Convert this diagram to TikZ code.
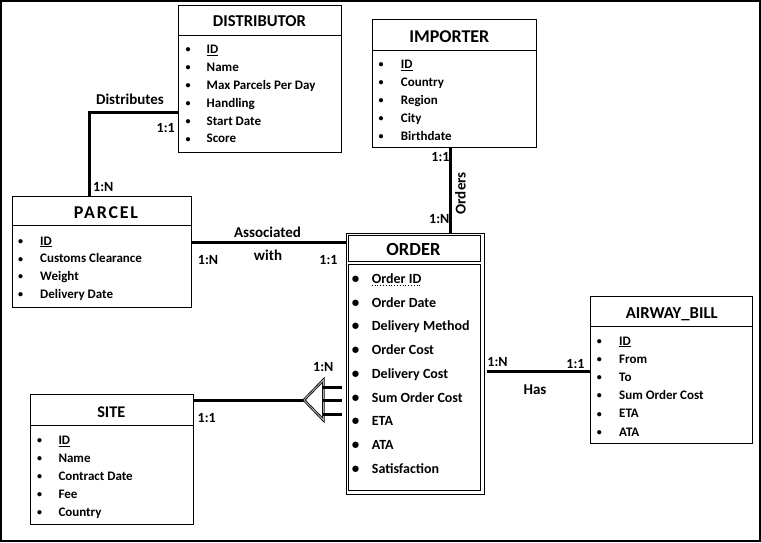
\documentclass[tikz,border=0pt]{standalone}
\usepackage{fontspec}
\setmainfont{Carlito}
\begin{document}
\begin{tikzpicture}[x=1pt,y=-1pt,
  ent/.style={draw, line width=0.9pt, inner sep=0pt, anchor=north west},
  sep/.style={line width=0.9pt},
  ttl/.style={font=\bfseries\fontsize{17}{19}\selectfont, inner sep=0pt, anchor=base},
  attr/.style={font=\bfseries\fontsize{13}{15}\selectfont, inner sep=0pt, anchor=base west},
  bul/.style={font=\bfseries\fontsize{10}{12}\selectfont, inner sep=0pt, anchor=base},
  oattr/.style={font=\bfseries\fontsize{14}{16}\selectfont, inner sep=0pt, anchor=base west},
  obul/.style={font=\bfseries\fontsize{15}{16}\selectfont, inner sep=0pt, anchor=base},
  rel/.style={line width=3pt},
  card/.style={font=\bfseries\fontsize{14}{16}\selectfont, inner sep=0pt},
  rname/.style={font=\bfseries\fontsize{15}{17}\selectfont, inner sep=0pt},
]
\useasboundingbox (0,0) rectangle (761,542);
\draw[line width=2pt] (1,1) rectangle (760,541);

% DISTRIBUTOR
\node[ent, minimum width=162.4pt, minimum height=146.7pt] (dist) at (178.3,5) {};
\draw[sep] (178.3,35) -- (340.7,35);
\node[ttl, font=\bfseries\fontsize{16.6}{19}\selectfont] (distT) at (259.5,26) {DISTRIBUTOR};
\foreach \t [count=\i from 0] in {\underline{ID},Name,Max Parcels Per Day,Handling,Start Date,Score} {
  \node[bul] (distB\i) at (188,49+17.9*\i+3.6) {\textbullet};
  \node[attr] (distA\i) at (206.5,49+17.9*\i+4.4) {\t};
}

% IMPORTER
\node[ent, minimum width=163.4pt, minimum height=128.3pt] (imp) at (372.3,19) {};
\draw[sep] (372.3,50.7) -- (535.7,50.7);
\node[ttl, font=\bfseries\fontsize{18}{20}\selectfont] (impT) at (449.3,42.5) {IMPORTER};
\foreach \t [count=\i from 0] in {\underline{ID},Country,Region,City,Birthdate} {
  \node[bul] (impB\i) at (381,64+17.9*\i+3.6) {\textbullet};
  \node[attr] (impA\i) at (400.7,64+17.9*\i+4.4) {\t};
}

% PARCEL
\node[ent, minimum width=179.3pt, minimum height=111pt] (parcel) at (11.7,195.7) {};
\draw[sep] (11.7,225.7) -- (191,225.7);
\node[ttl, font=\bfseries\fontsize{18}{20}\selectfont\addfontfeatures{LetterSpace=10}] (parcelT) at (106,218.8) {PARCEL};
\foreach \t [count=\i from 0] in {\underline{ID},Customs Clearance,Weight,Delivery Date} {
  \node[bul] (parcelB\i) at (20.5,240.7+17.8*\i+3.6) {\textbullet};
  \node[attr] (parcelA\i) at (40,240.7+17.8*\i+4.4) {\t};
}

% SITE
\node[ent, minimum width=162.7pt, minimum height=129.7pt] (site) at (30,394.3) {};
\draw[sep] (30,425) -- (192.7,425);
\node[ttl, font=\bfseries\fontsize{16.3}{18}\selectfont] (siteT) at (111.3,417.5) {SITE};
\foreach \t [count=\i from 0] in {\underline{ID},Name,Contract Date,Fee,Country} {
  \node[bul] (siteB\i) at (39.5,440+18*\i+3.6) {\textbullet};
  \node[attr] (siteA\i) at (58.3,440+18*\i+4.4) {\t};
}

% AIRWAY_BILL
\node[ent, minimum width=162.3pt, minimum height=147.3pt] (air) at (590,296) {};
\draw[sep] (590,326) -- (752.3,326);
\node[ttl, font=\bfseries\fontsize{16.7}{18}\selectfont] (airT) at (671.7,318.5) {AIRWAY\_BILL};
\foreach \t [count=\i from 0] in {\underline{ID},From,To,Sum Order Cost,ETA,ATA} {
  \node[bul] (airB\i) at (599.3,340.7+18.2*\i+3.6) {\textbullet};
  \node[attr] (airA\i) at (619,340.7+18.2*\i+4.4) {\t};
}

% ORDER (double border)
\node[ent, minimum width=138pt, minimum height=261pt] (order) at (345.5,232.5) {};
\draw[sep] (348.8,235.8) rectangle (480.2,261.3);
\draw[sep] (348.8,264.7) rectangle (480.2,490.2);
\node[ttl, font=\bfseries\fontsize{18.5}{21}\selectfont] (orderT) at (413.5,255) {ORDER};
\foreach \t [count=\i from 0] in {Order ID,Order Date,Delivery Method,Order Cost,Delivery Cost,Sum Order Cost,ETA,ATA,Satisfaction} {
  \node[obul] (orderB\i) at (355.5,278.3+23.75*\i+5) {\textbullet};
  \node[oattr] (orderA\i) at (371.7,278.3+23.75*\i+5) {\t};
}
\draw[dotted, line width=0.8pt] ([yshift=-2.5pt]orderA0.base west) -- ([yshift=-2.5pt]orderA0.base east);

% Distributes
\coordinate (dj) at (89,112.7);
\draw[rel] (dist.west |- dj) -- (dj) -- (parcel.north -| dj);
\node[rname] (distL) at (130,99) {Distributes};
\node[card] (distC1) at (165.7,127.5) {1:1};
\node[card] (distCN) at (103.3,186.7) {1:N};

% Orders
\coordinate (oj) at (450.5,0);
\draw[rel] (imp.south -| oj) -- (order.north -| oj);
\node[card] (impC1) at (440.5,157) {1:1};
\node[card] (impCN) at (439.3,219.3) {1:N};
\node[rname, rotate=90] (ordersL) at (460.5,193.3) {Orders};

% Associated with
\coordinate (aj) at (0,242.3);
\draw[rel] (parcel.east |- aj) -- (order.west |- aj);
\node[rname] (assocL) at (267.5,232.7) {Associated};
\node[rname] (withL) at (268,255.7) {with};
\node[card] (assocCN) at (208,259.5) {1:N};
\node[card] (assocC1) at (328.5,259.5) {1:1};

% Has
\coordinate (hj) at (0,371);
\draw[rel] ([xshift=2.5pt]order.east |- hj) -- (air.west |- hj);
\node[rname] (hasL) at (535,389.3) {Has};
\node[card] (hasCN) at (497.5,362.3) {1:N};
\node[card] (hasC1) at (575.5,364) {1:1};

% SITE - ORDER crow's foot
\coordinate (tip) at (304,400);
\coordinate (cfT) at (323.3,380);
\coordinate (cfB) at (323.3,420);
\draw[rel] (site.east |- tip) -- (tip);
\draw[line width=0.8pt, double=gray!70, double distance=1pt, line join=miter] (tip) -- (cfT) -- (cfB) -- cycle;
\foreach \yy [count=\k] in {387.7,400,414} {
  \coordinate (pr\k) at (342,\yy);
  \draw[rel] (cfT |- pr\k) -- (pr\k);
}
\node[card] (siteCN) at (323.3,366.7) {1:N};
\node[card] (siteC1) at (206.7,418.3) {1:1};
\end{tikzpicture}
\end{document}
